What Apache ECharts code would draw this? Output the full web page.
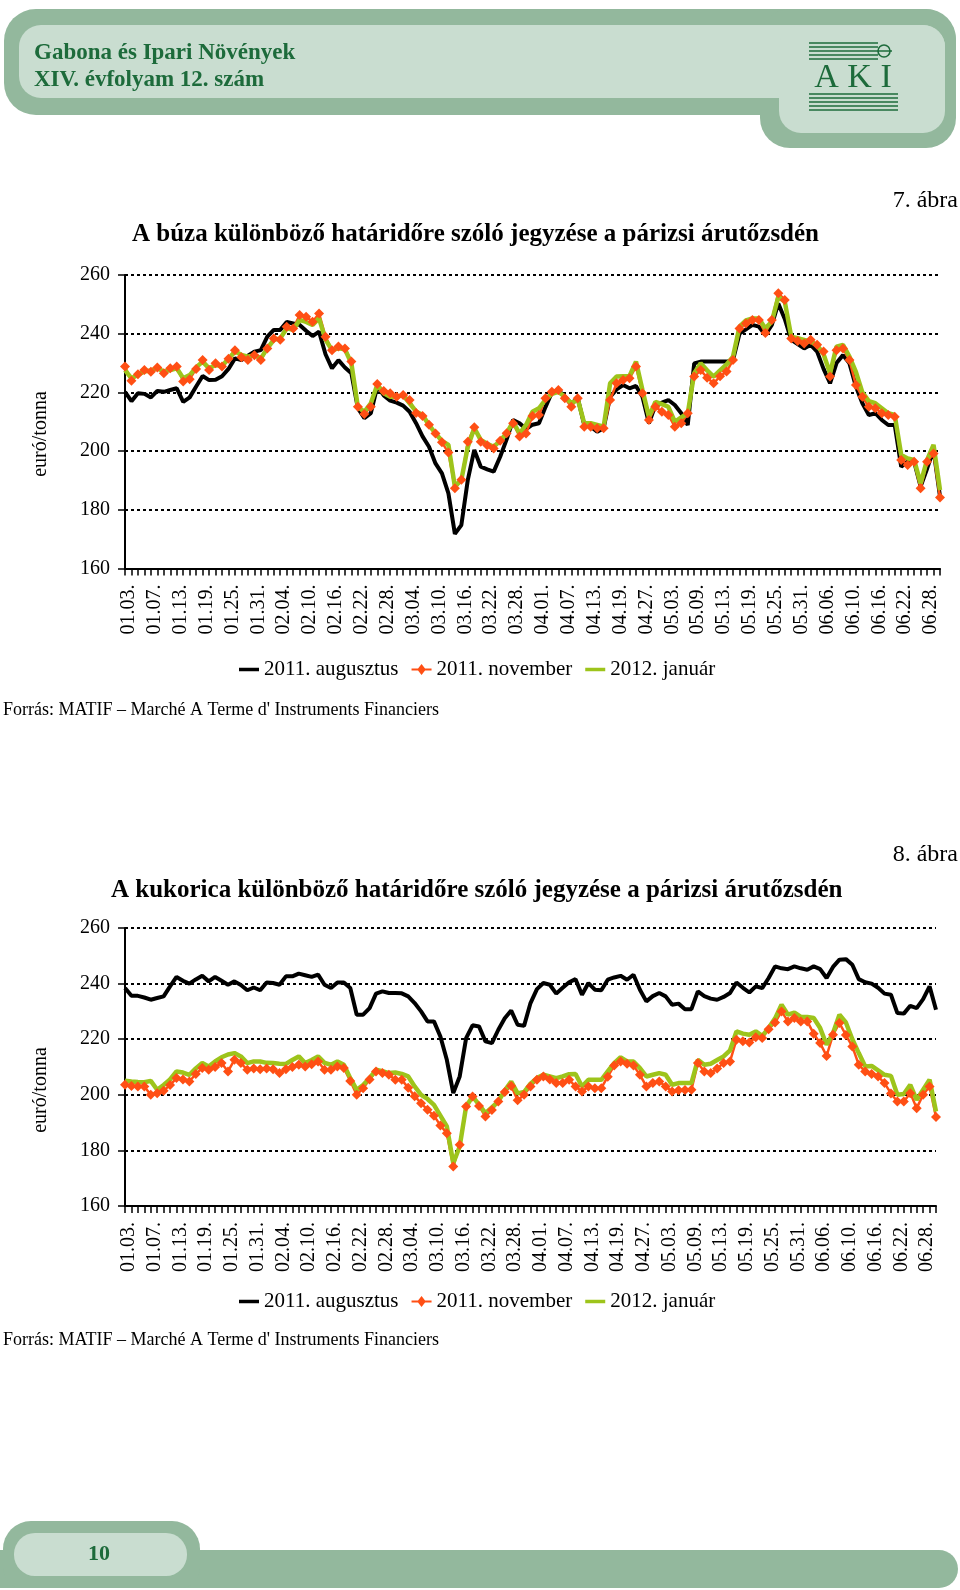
<!DOCTYPE html>
<html><head><meta charset="utf-8">
<script src="https://cdn.jsdelivr.net/npm/echarts@6/dist/echarts.min.js"></script>
<style>html,body{margin:0;padding:0;background:#fff}#c{width:960px;height:1590px}</style>
</head><body><div id="c"></div>
<script>
const categories = [
'01.03.','01.04.','01.05.','01.06.','01.07.','01.10.','01.11.','01.12.',
'01.13.','01.16.','01.17.','01.18.','01.19.','01.20.','01.23.','01.24.',
'01.25.','01.26.','01.27.','01.30.','01.31.','02.01.','02.02.','02.03.',
'02.04.','02.07.','02.08.','02.09.','02.10.','02.13.','02.14.','02.15.',
'02.16.','02.17.','02.20.','02.21.','02.22.','02.23.','02.24.','02.27.',
'02.28.','02.29.','03.01.','03.02.','03.04.','03.06.','03.07.','03.08.',
'03.10.','03.12.','03.13.','03.14.','03.16.','03.19.','03.20.','03.21.',
'03.22.','03.23.','03.26.','03.27.','03.28.','03.29.','03.30.','03.31.',
'04.01.','04.03.','04.04.','04.05.','04.07.','04.10.','04.11.','04.12.',
'04.13.','04.16.','04.17.','04.18.','04.19.','04.20.','04.24.','04.26.',
'04.27.','04.30.','05.01.','05.02.','05.03.','05.04.','05.07.','05.08.',
'05.09.','05.10.','05.11.','05.12.','05.13.','05.15.','05.16.','05.18.',
'05.19.','05.21.','05.22.','05.24.','05.25.','05.28.','05.29.','05.30.',
'05.31.','06.01.','06.04.','06.05.','06.06.','06.07.','06.08.','06.09.',
'06.10.','06.12.','06.14.','06.15.','06.16.','06.18.','06.19.','06.21.',
'06.22.','06.25.','06.26.','06.27.','06.28.','06.29.','07.02.'];

const seriesNames = ['2011. augusztus', '2011. november', '2012. január'];

// 7. ábra – búza
const buzaAug = [220.2,217,219.7,219.5,218.3,220.5,220.2,220.8,221.4,216.8,
218.3,222,225.6,224.2,224.3,225.5,228,231.6,231,232.5,
233.9,234.4,239,241.3,241.3,244,243.5,243,241,239.2,
240.7,233,228.2,231,228.5,226.5,214.6,211.2,212.9,222,
219,217.2,216.5,215.5,213.4,209.5,205,201.5,195.8,192.4,
185.6,171.8,174.8,190.2,200.4,194.7,193.8,193,198.1,204,
210.6,209.5,207.5,209,209.5,215,220,220.8,218.5,216.3,
218,208.9,208.3,206.6,207.8,218.5,221,222.5,221.4,222.2,
218.5,209.5,215.7,216.5,217.4,215.7,212.9,208.9,229.9,230.5,
230.5,230.5,230.5,230.5,231,240,241.5,243,242.4,239.6,
243,250.3,245,237.9,236.5,235,236.2,233.9,228,223.1,
230,232.7,229.9,222,216.3,212.3,212.9,210.6,208.9,208.9,
194.7,196.4,196.4,187.9,194,200.4,184.5];
const buzaNov = [228.8,224,226.2,227.6,227,228.5,226.5,228.2,228.8,223.7,
224.5,228,231,227.6,229.9,228.8,231.5,234.4,232,231,
232.7,231,235,238.4,237.9,242.4,241.8,246.4,245.8,244.1,
246.9,239,234.4,235.6,235,230.5,215.1,212.6,215.1,222.9,
220.5,219.7,218.5,219.1,217.4,213,212,209,206,203,
199.5,187.3,190.2,203.2,208.1,203.2,202,200.9,203.5,206.1,
209.5,205,206,212,212.3,218,220.2,220.8,218,215.1,
218,208.3,208.3,207.8,207.8,217.4,223.1,224.2,224.8,228.8,
219.7,210.6,215.1,213.4,212.3,208.3,209.5,212.9,225.4,227.6,
225,223.1,225.5,227.1,231,241.8,243.5,244.7,244.7,240.2,
244.7,253.8,251.5,238.4,237.5,236.7,237.9,236.2,233.9,225.4,
234.4,235,231,222.5,218.5,215.1,214.6,212.9,212.3,211.7,
197,195.3,196.4,187.3,196.4,199.2,184.2];
const buzaJan = [227.6,224.8,226,227.1,227.5,228.2,227.1,227.6,228.2,224.8,
225.9,228.5,230.5,228.2,229.3,229,231.5,233.9,232.8,232.2,
232.7,231.6,235,237.9,238.4,241.8,241.3,244.7,244,243,
245.2,238,234.4,235,234.7,229.9,215.1,213.4,216.3,222.5,
219.7,218.5,218.5,219.1,216.3,213.5,212.3,208.9,206,203.5,
202.1,187.9,190.2,201.5,207.8,203.8,202.5,201.5,203.5,206.1,
210,206,208.9,213.4,214.6,217.5,219.5,220.2,218.5,216.3,
217.6,209.5,209.5,208.9,208.3,223.1,225.4,225.5,225.6,230.5,
220.8,211.7,216.8,216,215.1,210,211.5,212.9,226.5,229.9,
227.5,225.4,227.5,229.5,232.2,242.4,244.5,245.2,245.2,241.8,
244.1,252.6,250.9,239,238.5,237.9,237.3,236,233,226.5,
235.6,236.2,232.2,227,220,217,216.3,214.6,212.9,212.3,
198.7,197.5,197,189,197,202.1,186.7];

// 8. ábra – kukorica
const kukAug = [238.4,235.6,235.6,235,234.2,234.8,235.4,239,242.4,241,
240,241.5,242.8,240.8,242.4,241,239.6,240.8,239.5,237.6,
238.6,237.6,240.4,240.2,239.6,242.6,242.6,243.6,243,242.4,
243.2,239.6,238.4,240.4,240.4,238.4,228.8,228.8,231.2,236.4,
237.2,236.6,236.6,236.5,235.4,233,230,226.4,226.4,221,
212.6,200.6,206.6,220.4,225,224.6,219.2,218.6,223.4,227.5,
230.3,225.2,224.8,233,238,240.2,239.6,236.4,238.5,240.5,
241.6,236,240.2,237.8,237.6,241.4,242.2,242.8,241.4,243.2,
237.8,233.6,235.5,236.6,235.4,232.4,232.8,230.8,230.8,237.2,
235.5,234.6,234.2,235.2,236.6,240.4,238.5,236.8,239,238.4,
242,246.2,245.5,245.2,246.2,245.5,245,246.2,245.2,242,
246,248.6,248.8,246.8,241.6,240.5,240,238.5,236.4,236,
229.4,229.2,232,231.2,234.4,239,230.6];
const kukNov = [203.6,203.2,203,203,200,200.6,201.5,203.5,206,205.5,
204.8,207.5,209.6,209,210,211.4,208.4,212.6,211.4,209,
209.5,209.2,209.5,209.2,207.8,209.2,210,210.8,210.2,211,
212,209,209,210.2,209.6,205,200,202.4,205.5,208.4,
207.8,207.2,205.4,205.4,202.5,199.5,197,194.6,192.5,189,
186.2,174.2,182,195.8,199.4,196,192.2,194.5,197.6,201,
203.2,198,200,203,205.4,206.6,205.5,204.2,204.2,205.4,
203,201.2,203,202.4,202.4,206.5,210.5,212,211.2,210.5,
207.2,203,204.2,204.8,203,201.2,201.6,201.7,201.8,211.4,
208.4,207.8,209.5,211.4,212,219.8,219.3,218.8,220.7,220.4,
223.6,226,230,226.4,227.6,226.4,226.4,222,218.6,214,
221.6,225.8,221.5,217.4,210.8,208.4,207.5,206.6,204.2,200.5,
197.6,197.6,200.6,195.2,200,203,192];
const kukJan = [205.1,204.8,204.6,204.5,205,201.8,203.5,205.5,208.4,208,
207.2,209.5,211.4,210.2,212,213.5,214.5,215,213.8,211.4,
212,212,211.5,211.4,211.2,211.1,212.5,213.8,211.4,212.5,
213.8,211.5,210.8,212,210.8,206,201.8,203.5,206,209,
208.5,207.8,208,207.5,206.6,203,200,198.5,196.4,192.5,
188.6,175.4,181.4,195.8,199.4,196.5,193.4,195.5,197.6,201.5,
204.8,200.5,201,204,206,207.2,206.6,206,206.6,207.4,
207.5,203,205.4,205.4,205.4,208.4,211.4,213.5,212,212,
209.6,206.6,207.2,207.8,207.2,203.6,204.2,204.2,204.2,212.6,
210.8,211.2,212.5,213.8,216,222.8,222,221.6,222.8,221.2,
224,227.5,232.4,228.8,229.6,228,228,227.6,224,218,
222.2,228.8,226,220,215,210.2,210.4,208.8,207.2,206.8,
200,200.3,203.6,198.2,201.8,205.4,194];

const yMin = 160, yMax = 260, yStep = 20;

const FONT = 'Liberation Serif';
const DARK = '#1d6b3b', BAND = '#93b89d', LIGHT = '#c9ddd0';
const C_AUG = '#000000', C_NOV = '#ff4f14', C_JAN = '#9dc41b';

const chart = echarts.init(document.getElementById('c'), null, {renderer: 'canvas'});

function xAxisFor(gi) {
  return {
    type: 'category', gridIndex: gi, data: categories, boundaryGap: false,
    axisLine: {lineStyle: {color: '#000', width: 2}},
    axisTick: {interval: 0, length: 7, lineStyle: {color: '#000', width: 1.5}},
    axisLabel: {interval: 3, rotate: 90, margin: 16, color: '#000',
      fontFamily: FONT, fontSize: 20, verticalAlign: 'top', lineHeight: 8}
  };
}
function yAxisFor(gi) {
  return {
    type: 'value', gridIndex: gi, min: yMin, max: yMax, interval: yStep,
    axisLine: {show: true, lineStyle: {color: '#000', width: 2}},
    axisTick: {show: true, length: 7, lineStyle: {color: '#000', width: 1.5}},
    axisLabel: {margin: 15, color: '#000', fontFamily: FONT, fontSize: 20},
    splitLine: {show: true, lineStyle: {color: '#000', width: 2, type: [3, 3]}}
  };
}
function seriesFor(gi, aug, nov, jan) {
  return [
    {name: seriesNames[0], type: 'line', xAxisIndex: gi, yAxisIndex: gi, data: aug,
      showSymbol: false, symbol: 'none', lineStyle: {color: C_AUG, width: 4}, itemStyle: {color: C_AUG}},
    {name: seriesNames[1], type: 'line', xAxisIndex: gi, yAxisIndex: gi, data: nov,
      symbol: 'diamond', symbolSize: 10, showSymbol: true, showAllSymbol: true,
      lineStyle: {color: C_NOV, width: 2.5}, itemStyle: {color: C_NOV}},
    {name: seriesNames[2], type: 'line', xAxisIndex: gi, yAxisIndex: gi, data: jan,
      showSymbol: false, symbol: 'none', lineStyle: {color: C_JAN, width: 4.5}, itemStyle: {color: C_JAN}}
  ];
}
const ICON_LINE = 'path://M0,0 H20 V3.5 H0 Z';
const ICON_DIAMOND = 'path://M0,4.6 H6.5 L10,0 L13.5,4.6 H20 V6.4 H13.5 L10,11 L6.5,6.4 H0 Z';
function legendFor(top) {
  return {
    top: top, left: 234, itemWidth: 20, itemHeight: 12, itemGap: 13, orient: 'horizontal',
    data: [
      {name: seriesNames[0], icon: ICON_LINE, itemStyle: {color: C_AUG}},
      {name: seriesNames[1], icon: ICON_DIAMOND, itemStyle: {color: C_NOV}},
      {name: seriesNames[2], icon: ICON_LINE, itemStyle: {color: C_JAN}}
    ],
    textStyle: {fontFamily: FONT, fontSize: 21, color: '#000'}
  };
}
function txt(x, y, text, size, opts) {
  opts = opts || {};
  return {type: 'text', x: x, y: y, rotation: opts.rotation || 0, z: 10,
    style: {text: text, fontFamily: FONT, fontSize: size, fontWeight: opts.bold ? 'bold' : 'normal',
      fill: opts.fill || '#000', align: opts.align || 'left', verticalAlign: 'middle'}};
}

const graphic = [
  // header
  {type: 'rect', shape: {x: 4, y: 9, width: 952, height: 106, r: 32}, style: {fill: BAND}},
  {type: 'rect', shape: {x: 760, y: 9, width: 196, height: 139, r: 30}, style: {fill: BAND}},
  {type: 'rect', shape: {x: 19, y: 25, width: 926, height: 73, r: 22}, style: {fill: LIGHT}},
  {type: 'rect', shape: {x: 779, y: 25, width: 166, height: 108, r: 22}, style: {fill: LIGHT}},
  txt(34, 53, 'Gabona és Ipari Növények', 23, {bold: true, fill: DARK}),
  txt(34, 80, 'XIV. évfolyam 12. szám', 23, {bold: true, fill: DARK}),
  // logo
  {type: 'line', shape: {x1: 809, y1: 43, x2: 878, y2: 43}, style: {stroke: DARK, lineWidth: 1.6}},
  {type: 'line', shape: {x1: 809, y1: 47, x2: 878, y2: 47}, style: {stroke: DARK, lineWidth: 1.6}},
  {type: 'line', shape: {x1: 809, y1: 51, x2: 892, y2: 51}, style: {stroke: DARK, lineWidth: 1.6}},
  {type: 'line', shape: {x1: 809, y1: 55, x2: 878, y2: 55}, style: {stroke: DARK, lineWidth: 1.6}},
  {type: 'line', shape: {x1: 809, y1: 59, x2: 878, y2: 59}, style: {stroke: DARK, lineWidth: 1.6}},
  {type: 'circle', shape: {cx: 884, cy: 51, r: 6}, style: {fill: 'none', stroke: DARK, lineWidth: 1.6}},
  txt(853, 78, 'A K I', 34, {fill: DARK, align: 'center'}),
  {type: 'line', shape: {x1: 809, y1: 94, x2: 898, y2: 94}, style: {stroke: DARK, lineWidth: 1.6}},
  {type: 'line', shape: {x1: 809, y1: 98, x2: 898, y2: 98}, style: {stroke: DARK, lineWidth: 1.6}},
  {type: 'line', shape: {x1: 809, y1: 102, x2: 898, y2: 102}, style: {stroke: DARK, lineWidth: 1.6}},
  {type: 'line', shape: {x1: 809, y1: 106, x2: 898, y2: 106}, style: {stroke: DARK, lineWidth: 1.6}},
  {type: 'line', shape: {x1: 809, y1: 110, x2: 898, y2: 110}, style: {stroke: DARK, lineWidth: 1.6}},
  // chart 1 texts
  txt(958, 201, '7. ábra', 24, {align: 'right'}),
  txt(132, 235, 'A búza különböző határidőre szóló jegyzése a párizsi árutőzsdén', 25, {bold: true}),
  txt(41, 434, 'euró/tonna', 20, {align: 'center', rotation: Math.PI / 2}),
  txt(3, 710, 'Forrás: MATIF – Marché A Terme d\' Instruments Financiers', 18),
  // chart 2 texts
  txt(958, 855, '8. ábra', 24, {align: 'right'}),
  txt(111, 891, 'A kukorica különböző határidőre szóló jegyzése a párizsi árutőzsdén', 25, {bold: true}),
  txt(41, 1090, 'euró/tonna', 20, {align: 'center', rotation: Math.PI / 2}),
  txt(3, 1340, 'Forrás: MATIF – Marché A Terme d\' Instruments Financiers', 18),
  // footer
  {type: 'rect', shape: {x: 0, y: 1550, width: 958, height: 38, r: [0, 19, 19, 0]}, style: {fill: BAND}},
  {type: 'rect', shape: {x: 3, y: 1521, width: 197, height: 67, r: [28, 28, 20, 20]}, style: {fill: BAND}},
  {type: 'rect', shape: {x: 14, y: 1533, width: 173, height: 43, r: 21}, style: {fill: LIGHT}},
  txt(99, 1554, '10', 22, {bold: true, fill: DARK, align: 'center'})
];

chart.setOption({
  animation: false,
  backgroundColor: '#fff',
  grid: [
    {left: 125, top: 275, width: 815, height: 293.5},
    {left: 125, top: 928, width: 811, height: 278}
  ],
  xAxis: [xAxisFor(0), xAxisFor(1)],
  yAxis: [yAxisFor(0), yAxisFor(1)],
  legend: [legendFor(654), legendFor(1286)],
  series: seriesFor(0, buzaAug, buzaNov, buzaJan).concat(seriesFor(1, kukAug, kukNov, kukJan)),
  graphic: graphic
});
</script></body></html>
